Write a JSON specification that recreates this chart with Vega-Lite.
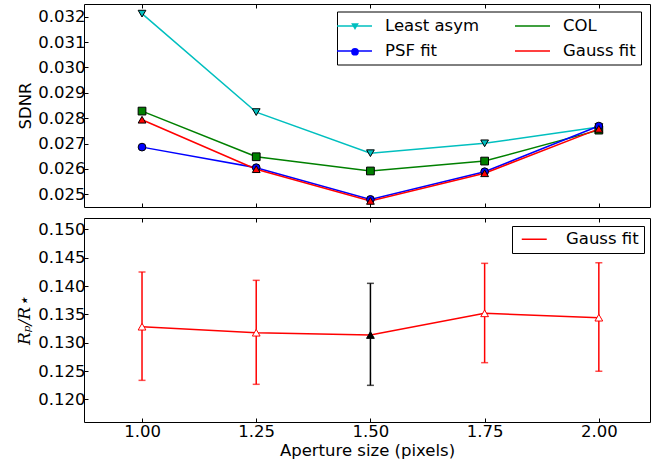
{
  "$schema": "https://vega.github.io/schema/vega-lite/v6.json",
  "autosize": {"type": "pad"},
  "padding": {"left": 15, "top": 3, "right": 0, "bottom": 0},
  "background": "white",
  "bounds": "flush",
  "spacing": 11,
  "resolve": {"scale": {"color": "independent", "fill": "independent", "shape": "independent"}, "legend": {"color": "independent", "fill": "independent", "shape": "independent"}},
  "config": {
    "font": "DejaVu Sans",
    "view": {"stroke": "black", "strokeWidth": 1},
    "axis": {
      "labelFont": "DejaVu Sans", "labelFontSize": 16.5, "labelColor": "black",
      "titleFont": "DejaVu Sans", "titleFontSize": 16.5, "titleFontWeight": "normal", "titleColor": "black",
      "grid": false, "domain": false, "tickColor": "black", "tickSize": -4, "tickWidth": 1,
      "labelPadding": 3, "titlePadding": 4, "labelOverlap": false, "labelFlush": false
    }
  },
  "vconcat": [
    {
      "width": 566,
      "height": 203,
      "data": {"values": [
        {"aperture": 1.00, "method": "Least asym", "sdnr": 0.03212},
        {"aperture": 1.25, "method": "Least asym", "sdnr": 0.02824},
        {"aperture": 1.50, "method": "Least asym", "sdnr": 0.02662},
        {"aperture": 1.75, "method": "Least asym", "sdnr": 0.02701},
        {"aperture": 2.00, "method": "Least asym", "sdnr": 0.02765},
        {"aperture": 1.00, "method": "COL", "sdnr": 0.02828},
        {"aperture": 1.25, "method": "COL", "sdnr": 0.02648},
        {"aperture": 1.50, "method": "COL", "sdnr": 0.02592},
        {"aperture": 1.75, "method": "COL", "sdnr": 0.02631},
        {"aperture": 2.00, "method": "COL", "sdnr": 0.02753},
        {"aperture": 1.00, "method": "PSF fit", "sdnr": 0.02686},
        {"aperture": 1.25, "method": "PSF fit", "sdnr": 0.02605},
        {"aperture": 1.50, "method": "PSF fit", "sdnr": 0.02480},
        {"aperture": 1.75, "method": "PSF fit", "sdnr": 0.02589},
        {"aperture": 2.00, "method": "PSF fit", "sdnr": 0.02769},
        {"aperture": 1.00, "method": "Gauss fit", "sdnr": 0.02794},
        {"aperture": 1.25, "method": "Gauss fit", "sdnr": 0.02599},
        {"aperture": 1.50, "method": "Gauss fit", "sdnr": 0.02474},
        {"aperture": 1.75, "method": "Gauss fit", "sdnr": 0.02583},
        {"aperture": 2.00, "method": "Gauss fit", "sdnr": 0.02758}
      ]},
      "layer": [
        {
          "mark": {"type": "line", "strokeWidth": 1.5},
          "encoding": {
            "x": {"field": "aperture", "type": "quantitative",
                  "scale": {"domain": [0.873, 2.112], "nice": false, "zero": false},
                  "axis": {"orient": "bottom", "labels": false, "title": null, "values": [1, 1.25, 1.5, 1.75, 2], "tickCount": 20}},
            "y": {"field": "sdnr", "type": "quantitative",
                  "scale": {"domain": [0.0245, 0.0325], "nice": false, "zero": false},
                  "axis": {"title": "SDNR", "values": [0.025, 0.026, 0.027, 0.028, 0.029, 0.030, 0.031, 0.032], "tickCount": 20, "format": ".3f", "labelOverlap": false}},
            "color": {"field": "method", "type": "nominal",
                      "sort": ["Least asym", "PSF fit", "COL", "Gauss fit"],
                      "scale": {"range": ["#00bfbf", "#0000ff", "#008000", "#ff0000"]},
                      "legend": {
                        "title": null, "orient": "none", "legendX": 253, "legendY": 7.5, "columns": 2,
                        "strokeColor": "black", "fillColor": "transparent", "padding": 5, "cornerRadius": 0,
                        "labelFont": "DejaVu Sans", "labelFontSize": 16.5, "labelColor": "black",
                        "symbolType": "M-2,0H2", "symbolSize": 306, "symbolStrokeWidth": 1.5,
                        "symbolOffset": 3, "labelOffset": 21, "rowPadding": 7, "columnPadding": 32, "zindex": 0
                      }}
          }
        },
        {
          "mark": {"type": "point", "filled": true, "size": 60, "stroke": "black", "strokeWidth": 1, "opacity": 1},
          "encoding": {
            "x": {"field": "aperture", "type": "quantitative",
                  "axis": {"orient": "top", "labels": false, "title": null, "values": [1, 1.25, 1.5, 1.75, 2], "tickCount": 20}},
            "y": {"field": "sdnr", "type": "quantitative"},
            "fill": {"field": "method", "type": "nominal",
                     "scale": {"domain": ["Least asym", "PSF fit", "COL", "Gauss fit"], "range": ["#00bfbf", "#0000ff", "#008000", "#ff0000"]},
                     "legend": {
                        "title": null, "orient": "top-left", "offset": 7.5, "columns": 2,
                        "strokeColor": "transparent", "fillColor": "transparent", "padding": 6.25, "cornerRadius": 0,
                        "labelFont": "DejaVu Sans", "labelFontSize": 16.5, "labelColor": "black", "labelOpacity": 0,
                        "symbolSize": 60, "symbolStrokeWidth": 1, "symbolStrokeColor": "black", "symbolOpacity": 1,
                        "symbolOffset": 248.5, "labelOffset": 23.5, "rowPadding": 8.25, "columnPadding": 32, "zindex": 2
                     }},
            "shape": {"field": "method", "type": "nominal",
                      "scale": {"domain": ["Least asym", "PSF fit", "COL", "Gauss fit"], "range": ["triangle-down", "circle", "square", "triangle-up"]},
                      "legend": {
                        "title": null, "orient": "top-left", "offset": 7.5, "columns": 2,
                        "strokeColor": "transparent", "fillColor": "transparent", "padding": 6.25, "cornerRadius": 0,
                        "labelFont": "DejaVu Sans", "labelFontSize": 16.5, "labelColor": "black", "labelOpacity": 0,
                        "symbolSize": 60, "symbolStrokeWidth": 1, "symbolStrokeColor": "black", "symbolOpacity": 1,
                        "symbolOffset": 248.5, "labelOffset": 23.5, "rowPadding": 8.25, "columnPadding": 32, "zindex": 2
                     }}
          }
        }
      ],
      "resolve": {"axis": {"x": "independent"}}
    },
    {
      "width": 566,
      "height": 204,
      "data": {"values": [
        {"aperture": 1.00, "method": "Gauss fit", "rp": 0.13282, "lo": 0.12335, "hi": 0.14247},
        {"aperture": 1.25, "method": "Gauss fit", "rp": 0.13176, "lo": 0.12265, "hi": 0.14100},
        {"aperture": 1.50, "method": "Gauss fit", "rp": 0.13135, "lo": 0.12247, "hi": 0.14047},
        {"aperture": 1.75, "method": "Gauss fit", "rp": 0.13518, "lo": 0.12647, "hi": 0.14400},
        {"aperture": 2.00, "method": "Gauss fit", "rp": 0.13441, "lo": 0.12494, "hi": 0.14412}
      ]},
      "layer": [
        {
          "mark": {"type": "line", "strokeWidth": 1.5},
          "encoding": {
            "x": {"field": "aperture", "type": "quantitative",
                  "scale": {"domain": [0.873, 2.112], "nice": false, "zero": false},
                  "axis": {"orient": "bottom", "title": "Aperture size (pixels)", "values": [1, 1.25, 1.5, 1.75, 2], "tickCount": 20, "format": ".2f", "labelPadding": 5, "titlePadding": 3}},
            "y": {"field": "rp", "type": "quantitative",
                  "scale": {"domain": [0.116, 0.152], "nice": false, "zero": false},
                  "axis": {"title": "Rₚ/R⋆", "titleFont": "DejaVu Serif", "titleFontStyle": "italic", "titleFontSize": 17,
                           "values": [0.120, 0.125, 0.130, 0.135, 0.140, 0.145, 0.150], "tickCount": 20, "format": ".3f", "labelOverlap": false}},
            "color": {"field": "method", "type": "nominal",
                      "scale": {"domain": ["Gauss fit"], "range": ["#ff0000"]},
                      "legend": {
                        "title": null, "orient": "none", "legendX": 428, "legendY": 8,
                        "strokeColor": "black", "fillColor": "white", "padding": 5, "cornerRadius": 0,
                        "labelFont": "DejaVu Sans", "labelFontSize": 16.5, "labelColor": "black",
                        "symbolType": "M-2,0H2", "symbolSize": 156, "symbolStrokeWidth": 1.5,
                        "symbolOffset": 9, "labelOffset": 23.5
                      }}
          }
        },
        {
          "mark": {"type": "rule", "strokeWidth": 1.5},
          "encoding": {
            "x": {"field": "aperture", "type": "quantitative", "axis": null},
            "y": {"field": "lo", "type": "quantitative"},
            "y2": {"field": "hi"},
            "color": {"condition": {"test": "datum.aperture == 1.5", "value": "black"}, "value": "#ff0000"}
          }
        },
        {
          "mark": {"type": "tick", "orient": "horizontal", "size": 7, "thickness": 1.5},
          "encoding": {
            "x": {"field": "aperture", "type": "quantitative", "axis": null},
            "y": {"field": "lo", "type": "quantitative"},
            "color": {"condition": {"test": "datum.aperture == 1.5", "value": "black"}, "value": "#ff0000"}
          }
        },
        {
          "mark": {"type": "tick", "orient": "horizontal", "size": 7, "thickness": 1.5},
          "encoding": {
            "x": {"field": "aperture", "type": "quantitative", "axis": null},
            "y": {"field": "hi", "type": "quantitative"},
            "color": {"condition": {"test": "datum.aperture == 1.5", "value": "black"}, "value": "#ff0000"}
          }
        },
        {
          "mark": {"type": "point", "shape": "triangle-up", "size": 60, "strokeWidth": 1, "opacity": 1},
          "encoding": {
            "x": {"field": "aperture", "type": "quantitative",
                  "axis": {"orient": "top", "labels": false, "title": null, "values": [1, 1.25, 1.5, 1.75, 2], "tickCount": 20}},
            "y": {"field": "rp", "type": "quantitative"},
            "fill": {"condition": {"test": "datum.aperture == 1.5", "value": "black"}, "value": "white"},
            "stroke": {"condition": {"test": "datum.aperture == 1.5", "value": "black"}, "value": "#ff0000"}
          }
        }
      ],
      "resolve": {"axis": {"x": "independent"}}
    }
  ]
}
